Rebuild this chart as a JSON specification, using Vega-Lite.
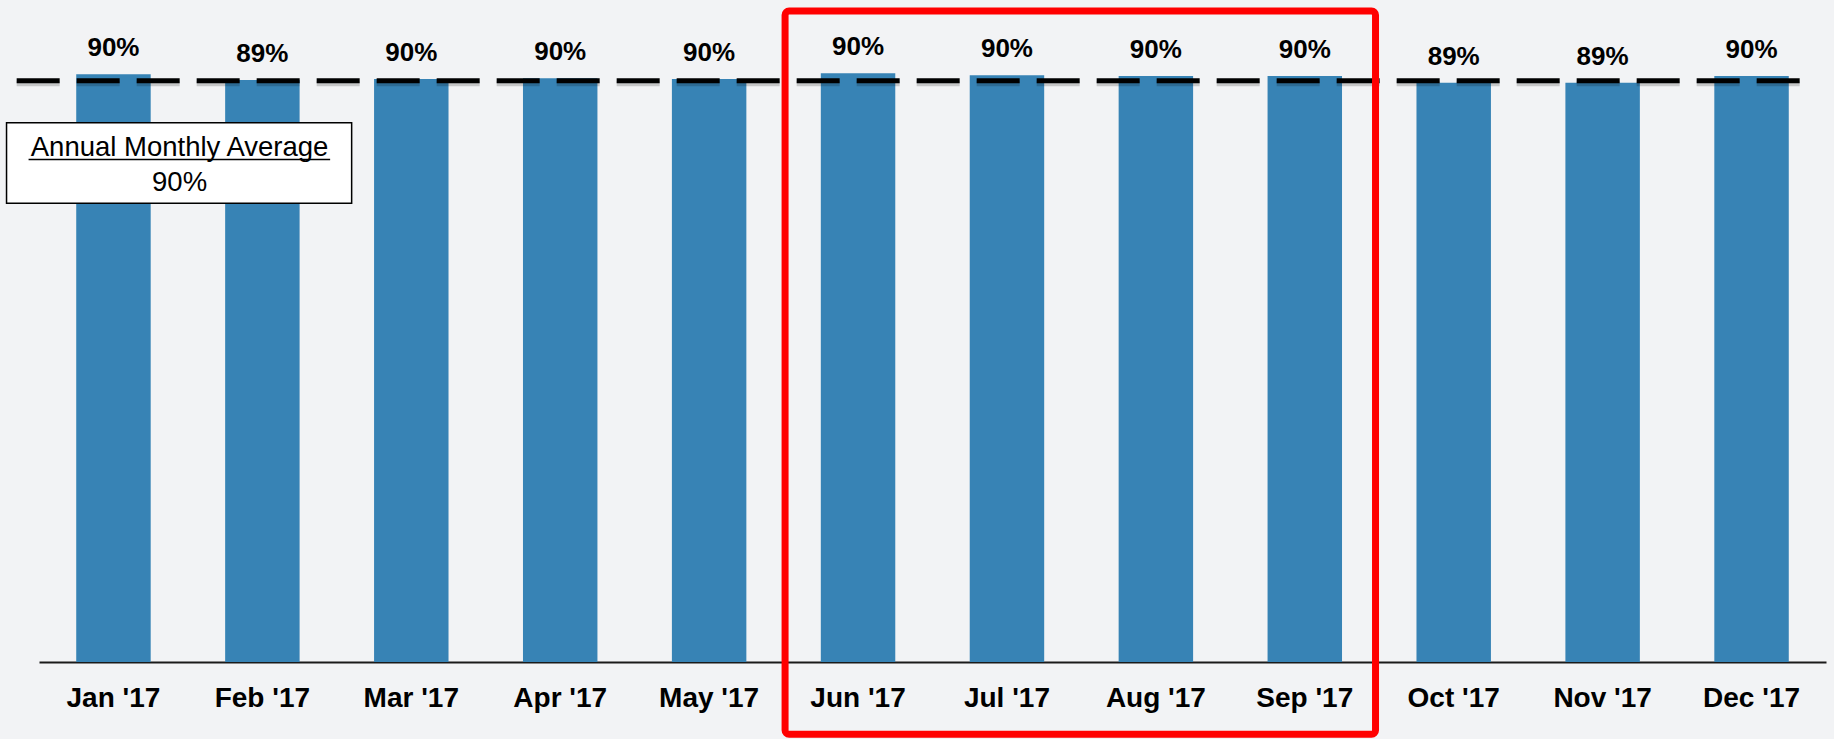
{
  "$schema": "https://vega.github.io/schema/vega-lite/v6.json",
  "width": 1787,
  "height": 651,
  "autosize": {"type": "none"},
  "padding": {"left": 39, "top": 11, "right": 8, "bottom": 77},
  "background": "#f2f3f5",
  "config": {"view": {"stroke": null}},
  "datasets": {
    "months": [
      {"month": "Jan '17", "value": 0.9028},
      {"month": "Feb '17", "value": 0.8940},
      {"month": "Mar '17", "value": 0.8955},
      {"month": "Apr '17", "value": 0.8966},
      {"month": "May '17", "value": 0.8955},
      {"month": "Jun '17", "value": 0.9045},
      {"month": "Jul '17", "value": 0.9012},
      {"month": "Aug '17", "value": 0.9002},
      {"month": "Sep '17", "value": 0.9002},
      {"month": "Oct '17", "value": 0.8899},
      {"month": "Nov '17", "value": 0.8899},
      {"month": "Dec '17", "value": 0.9002}
    ],
    "annotation": [
      {"label": "Annual Monthly Average", "avg": 0.90, "line": 0.8929, "from": "Jun '17", "to": "Sep '17"}
    ]
  },
  "layer": [
    {
      "data": {"name": "months"},
      "mark": {"type": "bar", "color": "#3783b5"},
      "encoding": {
        "x": {
          "field": "month", "type": "nominal", "sort": null,
          "scale": {
            "domain": ["Jan '17", "Feb '17", "Mar '17", "Apr '17", "May '17", "Jun '17", "Jul '17", "Aug '17", "Sep '17", "Oct '17", "Nov '17", "Dec '17"],
            "paddingInner": 0.5, "paddingOuter": 0.25
          },
          "axis": {
            "title": null, "labelAngle": 0, "ticks": false, "tickSize": 0,
            "domainColor": "#1a1a1a", "domainWidth": 2,
            "labelFont": "Liberation Sans", "labelFontWeight": "bold", "labelFontSize": 28,
            "labelColor": "#000000", "labelPadding": 44, "labelBaseline": "alphabetic", "grid": false
          }
        },
        "y": {
          "field": "value", "type": "quantitative",
          "scale": {"domain": [0, 1], "nice": false},
          "axis": null
        }
      }
    },
    {
      "data": {"name": "annotation"},
      "mark": {"type": "rule", "color": "#000000", "strokeWidth": 5, "opacity": 0.18, "strokeDash": [43, 17], "yOffset": 3, "strokeCap": "butt"},
      "encoding": {
        "x": {"datum": "Jan '17", "bandPosition": -0.8},
        "x2": {"datum": "Dec '17", "bandPosition": 1.33},
        "y": {"field": "line", "type": "quantitative"}
      }
    },
    {
      "data": {"name": "annotation"},
      "mark": {"type": "rule", "color": "#000000", "strokeWidth": 5, "strokeDash": [43, 17], "strokeCap": "butt"},
      "encoding": {
        "x": {"datum": "Jan '17", "bandPosition": -0.8},
        "x2": {"datum": "Dec '17", "bandPosition": 1.33},
        "y": {"field": "line", "type": "quantitative"}
      }
    },
    {
      "data": {"name": "annotation"},
      "mark": {"type": "rect", "fill": null, "fillOpacity": 0, "stroke": "#ff0000", "strokeWidth": 7, "cornerRadius": 4},
      "encoding": {
        "x": {"field": "from", "bandPosition": -0.48},
        "x2": {"field": "to", "bandPosition": 1.45},
        "y": {"datum": 1.0},
        "y2": {"datum": -0.111}
      }
    },
    {
      "data": {"name": "months"},
      "mark": {"type": "text", "font": "Liberation Sans", "fontWeight": "bold", "fontSize": 26, "color": "#000000", "baseline": "alphabetic", "dy": -18},
      "encoding": {
        "x": {"field": "month", "type": "nominal", "sort": null},
        "y": {"field": "value", "type": "quantitative"},
        "text": {"field": "value", "type": "quantitative", "format": ".0%"}
      }
    },
    {
      "data": {"name": "annotation"},
      "mark": {"type": "rect", "fill": "#000000", "opacity": 0.22, "xOffset": 4, "yOffset": 4},
      "encoding": {
        "x": {"datum": "Jan '17", "bandPosition": -0.936},
        "x2": {"datum": "Jan '17", "bandPosition": 3.699},
        "y": {"datum": 0.8284},
        "y2": {"datum": 0.7046}
      }
    },
    {
      "data": {"name": "annotation"},
      "mark": {"type": "rect", "fill": "#ffffff", "stroke": "#000000", "strokeWidth": 1.5},
      "encoding": {
        "x": {"datum": "Jan '17", "bandPosition": -0.936},
        "x2": {"datum": "Jan '17", "bandPosition": 3.699},
        "y": {"datum": 0.8284},
        "y2": {"datum": 0.7046}
      }
    },
    {
      "data": {"name": "annotation"},
      "mark": {"type": "text", "font": "Liberation Sans", "fontSize": 27.5, "color": "#000000", "baseline": "alphabetic", "align": "center"},
      "encoding": {
        "x": {"datum": "Jan '17", "bandPosition": 1.388},
        "y": {"datum": 0.7773},
        "text": {"field": "label"}
      }
    },
    {
      "data": {"name": "annotation"},
      "mark": {"type": "text", "font": "Liberation Sans", "fontSize": 27.5, "color": "#000000", "baseline": "alphabetic", "align": "center"},
      "encoding": {
        "x": {"datum": "Jan '17", "bandPosition": 1.388},
        "y": {"datum": 0.724},
        "text": {"field": "avg", "type": "quantitative", "format": ".0%"}
      }
    },
    {
      "data": {"name": "annotation"},
      "mark": {"type": "rule", "color": "#000000", "strokeWidth": 1.5},
      "encoding": {
        "x": {"datum": "Jan '17", "bandPosition": -0.64},
        "x2": {"datum": "Jan '17", "bandPosition": 3.41},
        "y": {"datum": 0.7719}
      }
    }
  ]
}
